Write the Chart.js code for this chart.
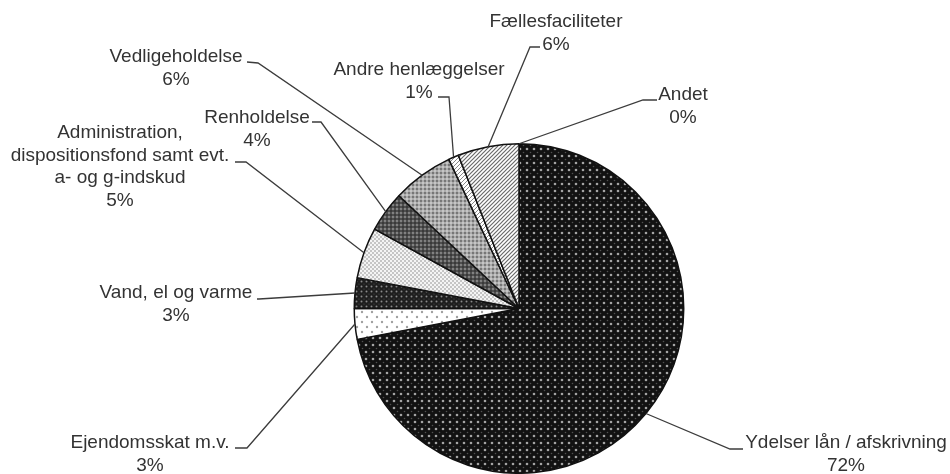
<!DOCTYPE html>
<html>
<head>
<meta charset="utf-8">
<script src="https://cdn.jsdelivr.net/npm/chart.js@4/dist/chart.umd.min.js"></script>
<style>
html,body{margin:0;padding:0;background:#fff;}
canvas{display:block;}
</style>
</head>
<body>
<canvas id="c" width="950" height="474"></canvas>
<script>
// ---- data ----
const categories = [
  "Ydelser lån / afskrivning",
  "Ejendomsskat m.v.",
  "Vand, el og varme",
  ["Administration,", "dispositionsfond samt evt.", "a- og g-indskud"],
  "Renholdelse",
  "Vedligeholdelse",
  "Andre henlæggelser",
  "Fællesfaciliteter",
  "Andet"
];
const values = [72, 3, 3, 5, 4, 6, 1, 6, 0];

// ---- styling (label placement, leader line elbows) ----
const labelStyle = [
  {cx: 846, y0: 443, elbow: [730, 449], end: [743, 449]},
  {cx: 150, y0: 443, elbow: [247, 448], end: [235, 448]},
  {cx: 176, y0: 293, elbow: [259, 299], end: [257, 299]},
  {cx: 120, y0: 133, elbow: [246, 162], end: [235, 162]},
  {cx: 257, y0: 118, elbow: [321, 122], end: [312, 122]},
  {cx: 176, y0: 57,  elbow: [258, 63],  end: [247, 62]},
  {cx: 419, y0: 70,  elbow: [449, 97],  end: [438, 97]},
  {cx: 556, y0: 22,  elbow: [530, 47],  end: [540, 47]},
  {cx: 683, y0: 95,  elbow: [643, 100], end: [657, 100]}
];

function makePattern(w, h, bg, draw) {
  const cv = document.createElement('canvas');
  cv.width = w; cv.height = h;
  const g = cv.getContext('2d');
  g.fillStyle = bg; g.fillRect(0, 0, w, h);
  draw(g, w, h);
  return g.createPattern(cv, 'repeat');
}
function dot(g, x, y, r, col) { g.fillStyle = col; g.beginPath(); g.arc(x, y, r, 0, Math.PI * 2); g.fill(); }
function stripes(g, s, col, lw, dir) {
  g.strokeStyle = col; g.lineWidth = lw;
  g.beginPath();
  for (let k = -1; k <= 1; k++) {
    if (dir > 0) { g.moveTo(k * s - 1, s + 1); g.lineTo(k * s + s + 1, -1); }
    else { g.moveTo(k * s - 1, -1); g.lineTo(k * s + s + 1, s + 1); }
  }
  g.stroke();
}

const patterns = [
  makePattern(7, 7, '#121212', (g) => { dot(g, 2, 2, 1.3, '#a4a4a4'); dot(g, 5.5, 5.5, 0.8, '#505050'); }),
  makePattern(10, 10, '#ffffff', (g) => { dot(g, 2, 2, 1.2, '#a0a0a0'); dot(g, 7, 7, 1.2, '#a0a0a0'); }),
  makePattern(5, 5, '#1e1e1e', (g) => { dot(g, 1.5, 1.5, 1.0, '#8a8a8a'); dot(g, 4, 4, 0.6, '#555'); }),
  makePattern(4, 4, '#f4f4f4', (g) => { dot(g, 1, 1, 0.8, '#8a8a8a'); dot(g, 3, 3, 0.8, '#8a8a8a'); }),
  makePattern(4, 4, '#4e4e4e', (g) => { dot(g, 1, 1, 0.9, '#9a9a9a'); dot(g, 3, 3, 0.8, '#222'); }),
  makePattern(4, 4, '#ababab', (g) => { dot(g, 1, 1, 0.9, '#5e5e5e'); dot(g, 3, 3, 0.8, '#e6e6e6'); }),
  makePattern(4, 4, '#ffffff', (g, w) => { stripes(g, w, '#888', 1, 1); }),
  makePattern(4, 4, '#ffffff', (g, w) => { stripes(g, w, '#6a6a6a', 1.2, 1); }),
  '#ffffff'
];

const FONT = '19px "Liberation Sans", Arial, sans-serif';

const labelPlugin = {
  id: 'pieLabels',
  afterDraw(chart) {
    const ctx = chart.ctx;
    const meta = chart.getDatasetMeta(0);
    const data = chart.data.datasets[0].data;
    const total = data.reduce((a, b) => a + b, 0);
    ctx.save();
    meta.data.forEach((arc, i) => {
      const st = labelStyle[i];
      const p = arc.getProps(['x', 'y', 'startAngle', 'endAngle', 'outerRadius'], true);
      const mid = (p.startAngle + p.endAngle) / 2;
      const ex = p.x + Math.cos(mid) * p.outerRadius;
      const ey = p.y + Math.sin(mid) * p.outerRadius;
      ctx.strokeStyle = '#3c3c3c';
      ctx.lineWidth = 1.3;
      ctx.beginPath();
      ctx.moveTo(ex, ey);
      ctx.lineTo(st.elbow[0], st.elbow[1]);
      ctx.lineTo(st.end[0], st.end[1]);
      ctx.stroke();

      const lbl = chart.data.labels[i];
      const lines = Array.isArray(lbl) ? lbl.slice() : [lbl];
      lines.push(Math.round(data[i] / total * 100) + '%');
      ctx.fillStyle = '#333333';
      ctx.font = FONT;
      ctx.textAlign = 'center';
      ctx.textBaseline = 'middle';
      lines.forEach((ln, k) => ctx.fillText(ln, st.cx, st.y0 + k * 22.5));
    });
    ctx.restore();
  }
};

new Chart(document.getElementById('c'), {
  type: 'pie',
  data: {
    labels: categories,
    datasets: [{
      data: values,
      backgroundColor: patterns,
      borderColor: '#111111',
      borderWidth: 1.5
    }]
  },
  options: {
    responsive: false,
    animation: false,
    devicePixelRatio: 1,
    layout: {padding: {top: 143, bottom: 0, left: 352, right: 264}},
    plugins: {legend: {display: false}, tooltip: {enabled: false}}
  },
  plugins: [labelPlugin]
});
</script>
</body>
</html>
